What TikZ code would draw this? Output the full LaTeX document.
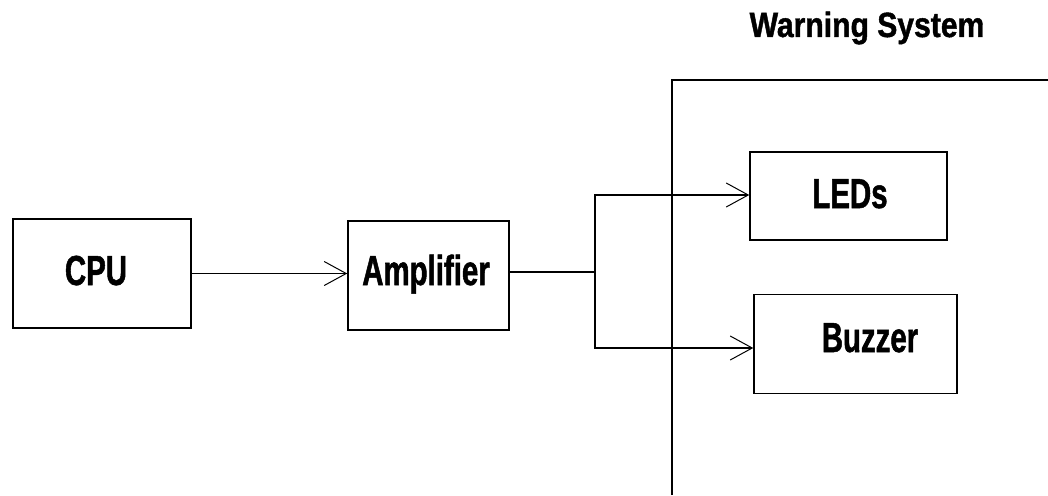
\documentclass[tikz,border=0pt]{standalone}
\usepackage{fontspec}
\usetikzlibrary{arrows.meta}
\newfontfamily\boxfont[FakeStretch=0.7,FakeBold=1.2]{Liberation Sans}
\newfontfamily\titlefont[FakeStretch=0.86,FakeBold=1.2]{Liberation Sans}
\tikzset{
  blk/.style={draw, line width=1.5pt, inner sep=0pt},
  lbl/.style={anchor=base, inner sep=0pt, font=\boxfont\bfseries\fontsize{42}{42}\selectfont},
  conn/.style={line width=1.2pt},
  arr/.style={conn, -{Straight Barb[length=22pt,width=24pt,line width=1pt]}},
}
\begin{document}
\begin{tikzpicture}[x=1pt,y=-1pt]
\useasboundingbox (0,0) rectangle (1048,495);
% frame of the warning system
\coordinate (fbot) at (672,495);
\coordinate (fcorner) at (672,80);
\coordinate (fright) at (1048,80);
\draw[line width=1.5pt] (fbot) -- (fcorner) -- (fright);
\node[anchor=base, inner sep=0pt, font=\titlefont\bfseries\fontsize{35}{35}\selectfont] (title) at (867,37) {Warning System};
% boxes
\node[blk, minimum width=178pt, minimum height=109pt] (cpu) at (102,273.5) {};
\node[blk, minimum width=161pt, minimum height=109pt] (amp) at (428.5,275.5) {};
\node[blk, minimum width=197pt, minimum height=88pt] (leds) at (848.5,196) {};
\node[blk, minimum width=203pt, minimum height=99pt] (buzz) at (855.5,344) {};
% labels
\node[lbl] (cpuT) at (96,285) {CPU};
\node[lbl] (ampT) at (426,285) {Amplifier};
\node[lbl] (ledsT) at (850,208) {LEDs};
\node[lbl] (buzzT) at (870,352) {Buzzer};
% connectors
\draw[arr] (cpu.east) -- (cpu.east -| amp.west);
\coordinate (br) at (595,272);
\draw[conn] (amp.east |- br) -- (br);
\draw[arr] (br) |- ([yshift=1pt]leds.west);
\draw[arr] (br) |- ([yshift=-4pt]buzz.west);
\end{tikzpicture}
\end{document}
